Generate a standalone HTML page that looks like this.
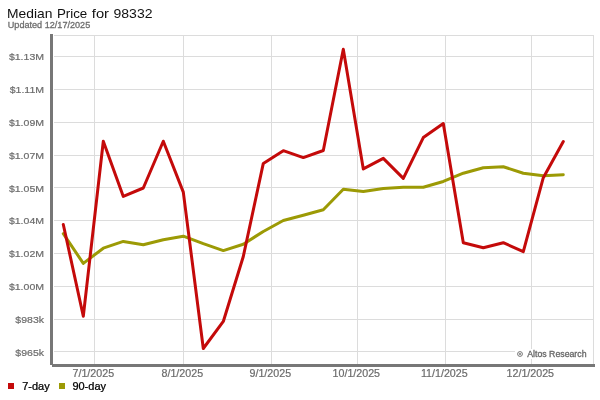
<!DOCTYPE html>
<html><head><meta charset="utf-8"><title>Median Price for 98332</title>
<style>
html,body{margin:0;padding:0;background:#fff;}
body{width:600px;height:400px;overflow:hidden;}
svg{display:block;will-change:transform;opacity:0.999;}
text{font-family:"Liberation Sans",sans-serif;}
.yl{font-size:9.7px;fill:#6c6c6c;stroke:#6c6c6c;stroke-width:0.2px;text-anchor:end;}
.xl{font-size:10px;fill:#6c6c6c;stroke:#6c6c6c;stroke-width:0.2px;text-anchor:middle;}
.lg{font-size:10px;fill:#000;stroke:#000;stroke-width:0.25px;}
</style></head><body>
<svg width="600" height="400" viewBox="0 0 600 400">
<rect x="0" y="0" width="600" height="400" fill="#fff"/>
<text y="18" font-size="13.2" fill="#111"><tspan x="7.1" textLength="45.4" lengthAdjust="spacingAndGlyphs">Median</tspan><tspan x="56.9" textLength="30.4" lengthAdjust="spacingAndGlyphs">Price</tspan><tspan x="91.8" textLength="17.2" lengthAdjust="spacingAndGlyphs">for</tspan><tspan x="113.5" textLength="39" lengthAdjust="spacingAndGlyphs">98332</tspan></text>
<text x="7.8" y="28" font-size="9.1" fill="#6e6e6e" stroke="#6e6e6e" stroke-width="0.3">Updated 12/17/2025</text>
<g stroke="#dcdcdc" stroke-width="1" fill="none" shape-rendering="crispEdges">
<path d="M53.5 35.5H593.5V364"/>
<line x1="53.5" y1="56.50" x2="593.5" y2="56.50"/>
<line x1="53.5" y1="89.50" x2="593.5" y2="89.50"/>
<line x1="53.5" y1="122.50" x2="593.5" y2="122.50"/>
<line x1="53.5" y1="155.50" x2="593.5" y2="155.50"/>
<line x1="53.5" y1="187.50" x2="593.5" y2="187.50"/>
<line x1="53.5" y1="220.50" x2="593.5" y2="220.50"/>
<line x1="53.5" y1="253.50" x2="593.5" y2="253.50"/>
<line x1="53.5" y1="286.50" x2="593.5" y2="286.50"/>
<line x1="53.5" y1="319.50" x2="593.5" y2="319.50"/>
<line x1="53.5" y1="351.50" x2="593.5" y2="351.50"/>
<line x1="94.50" y1="35.5" x2="94.50" y2="364"/>
<line x1="183.50" y1="35.5" x2="183.50" y2="364"/>
<line x1="271.50" y1="35.5" x2="271.50" y2="364"/>
<line x1="357.50" y1="35.5" x2="357.50" y2="364"/>
<line x1="445.50" y1="35.5" x2="445.50" y2="364"/>
<line x1="531.50" y1="35.5" x2="531.50" y2="364"/>
</g>
<rect x="515" y="349" width="78" height="10" fill="#fff"/>
<g fill="none" stroke="#666" stroke-width="0.9"><circle cx="520" cy="354" r="2.4"/></g><circle cx="520" cy="354" r="0.9" fill="#666"/>
<text x="527.2" y="357" font-size="8.75" fill="#666" stroke="#666" stroke-width="0.3">Altos Research</text>
<polyline points="63.30,233.70 83.30,263.40 103.30,248.20 123.30,241.45 143.30,244.70 163.30,239.70 183.30,236.20 203.30,243.70 223.30,250.60 243.30,244.25 263.30,231.45 283.30,220.45 303.30,215.20 323.30,209.70 343.30,189.20 363.30,191.45 383.30,188.45 403.30,187.20 423.30,187.20 443.30,181.45 463.30,173.20 483.30,167.70 503.30,166.70 523.30,173.20 543.30,175.70 563.30,174.70" fill="none" stroke="#9c9a05" stroke-width="3" stroke-linejoin="round" stroke-linecap="round"/>
<polyline points="63.30,224.50 83.30,316.25 103.30,141.25 123.30,196.40 143.30,188.00 163.30,141.25 183.30,192.10 203.30,348.50 223.30,321.45 243.30,256.45 263.30,163.40 283.30,150.70 303.30,157.60 323.30,150.50 343.30,49.30 363.30,168.95 383.30,158.40 403.30,178.40 423.30,137.60 443.30,123.50 463.30,242.70 483.30,247.70 503.30,242.70 523.30,251.70 543.30,177.70 563.30,141.45" fill="none" stroke="#c40a0a" stroke-width="3" stroke-linejoin="round" stroke-linecap="round"/>
<rect x="50" y="34" width="3" height="331" fill="#777"/>
<rect x="52" y="364" width="543" height="3" fill="#777"/>
<text class="yl" transform="translate(44,59.90) scale(1.085,1)">$1.13M</text>
<text class="yl" transform="translate(44,92.90) scale(1.085,1)">$1.11M</text>
<text class="yl" transform="translate(44,125.90) scale(1.085,1)">$1.09M</text>
<text class="yl" transform="translate(44,158.90) scale(1.085,1)">$1.07M</text>
<text class="yl" transform="translate(44,191.90) scale(1.085,1)">$1.05M</text>
<text class="yl" transform="translate(44,223.90) scale(1.085,1)">$1.04M</text>
<text class="yl" transform="translate(44,256.90) scale(1.085,1)">$1.02M</text>
<text class="yl" transform="translate(44,289.90) scale(1.085,1)">$1.00M</text>
<text class="yl" transform="translate(44,322.90) scale(1.085,1)">$983k</text>
<text class="yl" transform="translate(44,355.90) scale(1.085,1)">$965k</text>
<text class="xl" transform="translate(93.30,376.6) scale(1.07,1)">7/1/2025</text>
<text class="xl" transform="translate(182.30,376.6) scale(1.07,1)">8/1/2025</text>
<text class="xl" transform="translate(270.30,376.6) scale(1.07,1)">9/1/2025</text>
<text class="xl" transform="translate(356.30,376.6) scale(1.07,1)">10/1/2025</text>
<text class="xl" transform="translate(444.30,376.6) scale(1.07,1)">11/1/2025</text>
<text class="xl" transform="translate(530.30,376.6) scale(1.07,1)">12/1/2025</text>
<rect x="8" y="383" width="6" height="6" fill="#c40a0a"/>
<text class="lg" transform="translate(22.2,389.5) scale(1.1,1)">7-day</text>
<rect x="59" y="383" width="6" height="6" fill="#9c9a05"/>
<text class="lg" transform="translate(72.4,389.5) scale(1.1,1)">90-day</text>
</svg></body></html>
